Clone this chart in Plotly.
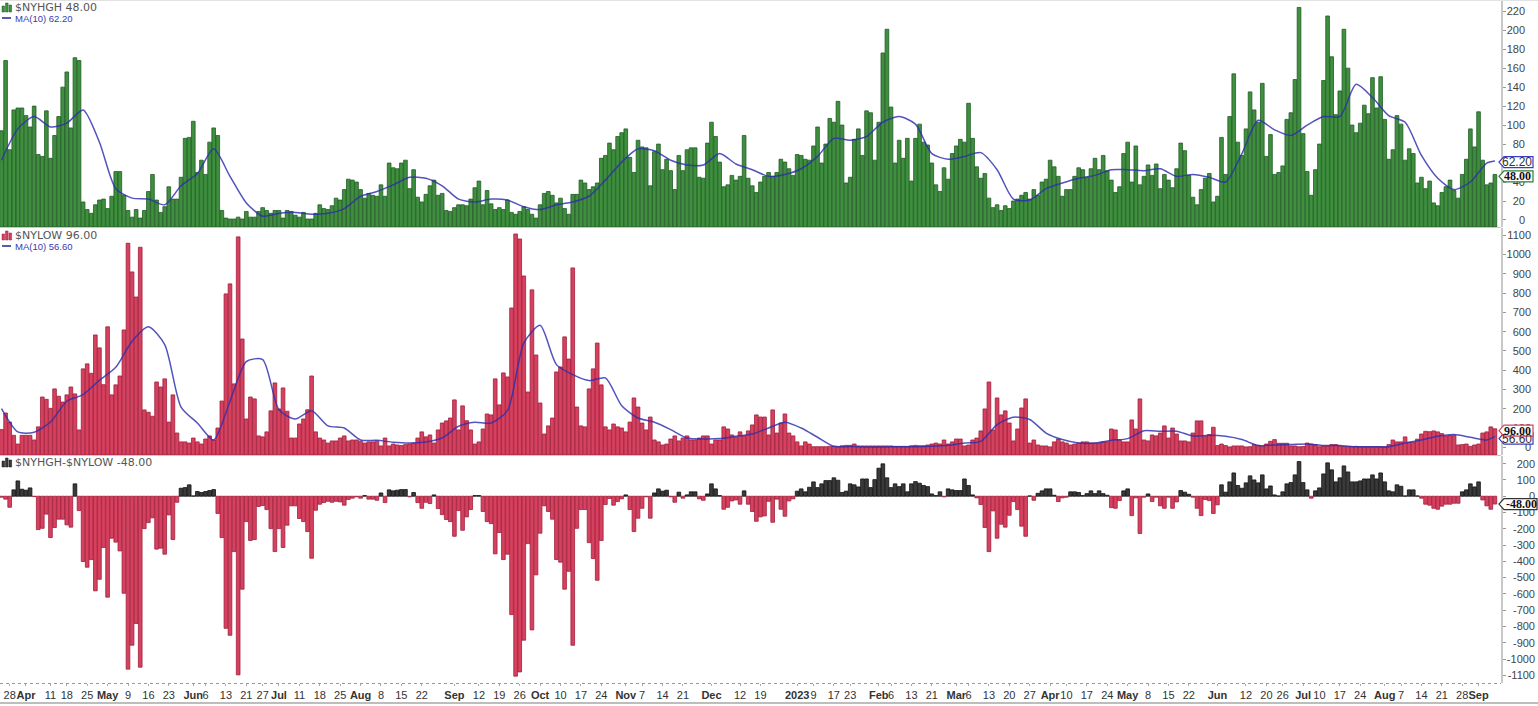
import pandas as pd
import plotly.graph_objects as go

# NYSE sessions shown on the chart
holidays = ["2022-04-15", "2022-05-30", "2022-06-20", "2022-07-04", "2022-09-05", "2022-11-24", "2022-12-26",
            "2023-01-02", "2023-01-16", "2023-02-20", "2023-04-07", "2023-05-29", "2023-06-19", "2023-07-04", "2023-09-04"]
dates = [d.strftime("%Y-%m-%d") for d in pd.bdate_range("2022-03-24", "2023-09-08") if d.strftime("%Y-%m-%d") not in holidays]

new_highs = [
    94, 168, 74, 116, 118, 118, 110, 98, 120, 69, 67, 115, 65, 89, 109, 140, 156, 97, 171, 168,
    19, 11, 7, 16, 21, 22, 12, 25, 51, 51, 26, 10, 3, 11, 2, 10, 30, 48, 21, 8,
    14, 35, 22, 22, 45, 86, 87, 104, 50, 63, 48, 82, 97, 89, 10, 2, 1, 1, 3, 1,
    9, 3, 3, 9, 13, 10, 7, 10, 10, 2, 10, 9, 5, 3, 8, 1, 1, 7, 16, 12,
    11, 15, 23, 21, 32, 43, 42, 40, 32, 23, 28, 26, 25, 37, 25, 60, 55, 54,
    60, 63, 33, 53, 24, 19, 27, 36, 42, 26, 28, 10, 9, 13, 16, 16, 15, 22, 34, 41,
    16, 31, 17, 11, 13, 11, 21, 8, 6, 9, 14, 11, 6, 2, 16, 28, 30, 26, 18, 23,
    12, 6, 27, 27, 42, 39, 32, 35, 39,
    65, 68, 81, 74, 88, 92, 96, 66, 50, 84, 77, 76, 36, 72, 80, 53, 64, 52, 32, 68,
    52, 74, 76, 76, 45, 44, 81, 103, 88, 61, 35, 37, 47, 42, 46, 89, 44, 36, 29, 40,
    46, 50, 46, 50, 64, 61, 54, 47, 69,
    68, 64, 63, 78, 98, 60, 80, 107, 103, 125, 100, 39, 45, 85, 96, 68, 115, 113, 63, 103,
    176, 201, 119, 60, 84, 65, 86, 41, 86, 101, 82, 79, 60, 37, 30, 55, 43, 70, 78, 85,
    82, 123, 86, 56, 44, 49, 23, 13, 16, 10, 15, 12, 20, 22, 26, 29, 22, 32, 26, 40,
    43, 63, 56, 46, 25, 32, 32, 46, 55, 53, 45, 54, 65, 53, 68, 52, 42, 29, 35, 70,
    82, 40, 78, 37, 46, 58, 47, 59, 33, 48, 42, 34, 54, 81, 73, 47, 24, 16,
    32, 44, 49, 19, 25, 87, 48, 109, 154, 82, 68, 96, 135, 116, 103, 144, 67, 90, 48, 50,
    57, 106, 113, 148, 224, 91, 51, 26, 53, 80, 147, 215, 172, 111, 136, 201, 160, 100, 92, 102,
    121, 112, 150, 118, 151, 106, 64, 74, 110, 101, 63, 75, 70, 39, 45, 33, 41, 18, 15, 29,
    35, 42, 31, 23, 48, 64, 96, 77, 114, 63, 37, 39, 48,
]
new_lows = [
    92, 178, 131, 62, 17, 62, 62, 62, 38, 106, 261, 249, 202, 303, 265, 235, 272, 313, 277, 90,
    407, 433, 384, 583, 516, 325, 625, 272, 324, 370, 609, 1059, 910, 780, 1038, 194, 182, 161, 339, 313,
    355, 131, 272, 74, 28, 28, 22, 48, 28, 17, 43, 59, 38, 100, 240, 796, 848, 329, 1092, 562,
    147, 261, 251, 59, 54, 80, 189, 334, 199, 308, 187, 48, 48, 121, 147, 195, 370, 80, 48, 38,
    22, 33, 33, 48, 59, 33, 38, 38, 31, 22, 28, 28, 31, 7, 48, 7, 17, 12,
    9, 14, 17, 21, 48, 80, 54, 64, 22, 90, 126, 137, 152, 246, 90, 215, 138, 90, 17, 28,
    95, 173, 168, 355, 220, 386, 365, 723, 1107, 1081, 889, 287, 817, 479, 230, 69, 111, 152, 391, 417,
    573, 458, 931, 209, 111, 106, 303, 407, 541, 324, 106, 90, 121, 106, 100, 80, 131, 256, 209, 126,
    90, 157, 38, 28, 12, 17, 43, 59, 33, 48, 59, 38, 38, 48, 59, 59, 17, 38, 38, 106,
    95, 64, 54, 80, 59, 85, 116, 168, 157, 157, 64, 194, 74, 126, 173, 74, 59, 28,
    7, 28, 17, 3, 3, 3, 3, 5, 5, 3, 8, 10, 10, 17, 7, 7, 7, 7, 7, 7,
    7, 7, 7, 5, 5, 5, 5, 8, 10, 8, 8, 12, 17, 22, 17, 38, 17, 28, 43, 43,
    7, 12, 38, 48, 85, 199, 339, 90, 256, 168, 189, 126, 33, 95, 204, 251, 22, 38, 12, 7,
    7, 2, 28, 43, 28, 22, 12, 17, 22, 28, 28, 22, 22, 22, 28, 28, 95, 90, 38, 28,
    28, 142, 95, 251, 38, 33, 64, 59, 74, 111, 48, 100, 69, 33, 33, 28, 74, 137,
    137, 57, 66, 104, 9, 17, 9, 2, 7, 7, 7, 2, 3, 14, 10, 5, 17, 31, 40, 21,
    21, 21, 7, 7, 3, 4, 22, 17, 14, 3, 7, 7, 14, 14, 7, 4, 3, 4, 5, 3,
    3, 3, 3, 3, 3, 3, 14, 38, 28, 28, 54, 26, 26, 42, 69, 83, 81, 85, 80, 71,
    59, 62, 62, 12, 14, 17, 5, 12, 17, 74, 80, 106, 96,
]
net_highs = [
    -6, -18, -68, 39, 94, 43, 37, 51, -2, -205, -197, -110, -254, -192, -141, -141, -176, -190, 76, -88,
    -401, -436, -389, -581, -510, -315, -620, -258, -282, -336, -596, -1062, -915, -782, -1050, -199, -162, -133, -325, -319,
    -356, -115, -266, -37, 49, 53, 70, 2, 29, 23, 29, 35, 41, -106, -254, -811, -854, -340, -1097, -571,
    -156, -272, -266, -63, -57, -82, -199, -340, -199, -315, -178, -59, -59, -137, -156, -217, -381, -86, -49, -39,
    -31, -37, -31, -35, -55, -20, -12, -4, -12, 4, -18, -18, -25, 20, -39, 39, 33, 37,
    41, 41, -4, 23, -39, -74, -37, -45, 8, -76, -113, -143, -156, -246, -88, -209, -127, -82, 4, 4,
    -94, -156, -168, -354, -223, -389, -356, -727, -1105, -1079, -884, -291, -821, -483, -227, -59, -94, -141, -389, -405,
    -571, -461, -915, -197, -82, -82, -285, -383, -516, -272, -51, -14, -55, -33, -16, 8, -82, -217, -135, -74,
    -4, -135, 20, 45, 31, 37, -4, -37, 25, -12, 8, 27, 27, -16, -25, 14, 76, 45, 4, -80,
    -68, -29, -23, -49, 33, -49, -94, -154, -127, -121, -31, -160, -18, -80, -123, -29, -16, 31,
    45, 27, 55, 88, 53, 76, 96, 96, 113, 98, 23, 31, 76, 70, 57, 106, 106, 53, 102, 172,
    199, 113, 53, 76, 59, 76, 27, 76, 90, 80, 66, 59, 14, 4, 27, -4, 45, 39, 35, 35,
    106, 66, 8, -10, -51, -192, -340, -90, -258, -172, -190, -117, -33, -82, -184, -246, 2, -25, 18, 33,
    45, 45, 6, -33, -10, -6, 27, 27, 23, 4, 16, 33, 16, 33, 16, 6, -70, -74, -27, 33,
    45, -119, -10, -229, -6, 14, -33, -6, -59, -74, -6, -74, -35, 35, 25, 12, -6, -74,
    -119, -20, -27, -106, -53, 70, 25, 88, 143, 66, 49, 82, 125, 100, 82, 131, 45, 63, 8, 2,
    27, 76, 84, 131, 213, 84, 39, -12, 33, 51, 137, 205, 162, 88, 113, 186, 149, 88, 88, 94,
    106, 106, 131, 106, 143, 88, 33, 27, 70, 61, 2, 39, 39, 2, -12, -49, -55, -74, -80, -61,
    -49, -49, -43, -43, 27, 39, 76, 57, 88, -23, -59, -80, -48,
]

# moving averages read every fourth session, plus the last one
ma_highs = [
    63, 96, 109, 98, 102, 116, 82, 33, 23, 22, 16, 36, 49, 75, 46, 18, 4, 7, 8, 6, 7, 12, 25, 30, 37,
    45, 44, 36, 22, 19, 22, 21, 14, 11, 16, 19, 25, 42, 61, 75, 73, 63, 58, 58, 70, 59, 53, 46, 48,
    54, 67, 86, 84, 88, 103, 109, 101, 70, 64, 67, 71, 53, 22, 21, 33, 39, 44, 47, 53, 53, 52, 54, 46, 48,
    45, 40, 70, 105, 95, 89, 100, 109, 109, 143, 129, 110, 103, 68, 44, 32, 40, 60, 62.2,
]
ma_lows = [
    201, 80, 78, 131, 239, 273, 348, 415, 550, 625, 533, 209, 126, 38, 239, 445, 455, 195, 147, 190, 111, 100, 38, 36, 26,
    22, 28, 48, 109, 130, 126, 190, 541, 633, 429, 377, 346, 360, 216, 152, 130, 92, 48, 43, 45, 57, 69, 100, 130,
    100, 52, 5, 4, 2, 2, 3, 3, 5, 10, 22, 31, 118, 156, 144, 74, 40, 22, 22, 36, 45, 86, 83, 83, 59,
    62, 57, 40, 9, 12, 14, 17, 9, 9, 3, 3, 3, 22, 38, 57, 66, 52, 38, 56.6,
]

tick_dates = [
    "2022-03-28", "2022-04-01", "2022-04-11", "2022-04-18", "2022-04-25", "2022-05-02", "2022-05-09", "2022-05-16", "2022-05-23",
    "2022-06-01", "2022-06-06", "2022-06-13", "2022-06-21", "2022-06-27", "2022-07-01", "2022-07-11", "2022-07-18", "2022-07-25",
    "2022-08-01", "2022-08-08", "2022-08-15", "2022-08-22", "2022-09-01", "2022-09-12", "2022-09-19", "2022-09-26",
    "2022-10-03", "2022-10-10", "2022-10-17", "2022-10-24", "2022-11-01", "2022-11-07", "2022-11-14", "2022-11-21",
    "2022-12-01", "2022-12-12", "2022-12-19", "2023-01-03", "2023-01-09", "2023-01-17", "2023-01-23", "2023-02-01", "2023-02-06",
    "2023-02-13", "2023-02-21", "2023-03-01", "2023-03-06", "2023-03-13", "2023-03-20", "2023-03-27", "2023-04-03", "2023-04-10",
    "2023-04-17", "2023-04-24", "2023-05-01", "2023-05-08", "2023-05-15", "2023-05-22", "2023-06-01", "2023-06-12", "2023-06-20",
    "2023-06-26", "2023-07-03", "2023-07-10", "2023-07-17", "2023-07-24", "2023-08-01", "2023-08-07", "2023-08-14", "2023-08-21",
    "2023-08-28", "2023-09-01",
]
tick_labels = [
    "28", "<b>Apr</b>", "11", "18", "25", "<b>May</b>", "9", "16", "23",
    "<b>Jun</b>", "6", "13", "21", "27", "<b>Jul</b>", "11", "18", "25",
    "<b>Aug</b>", "8", "15", "22", "<b>Sep</b>", "12", "19", "26",
    "<b>Oct</b>", "10", "17", "24", "<b>Nov</b>", "7", "14", "21",
    "<b>Dec</b>", "12", "19", "<b>2023</b>", "9", "17", "23", "<b>Feb</b>", "6",
    "13", "21", "<b>Mar</b>", "6", "13", "20", "27", "<b>Apr</b>", "10",
    "17", "24", "<b>May</b>", "8", "15", "22", "<b>Jun</b>", "12", "20",
    "26", "<b>Jul</b>", "10", "17", "24", "<b>Aug</b>", "7", "14", "21",
    "28", "<b>Sep</b>",
]
high_ticks = list(range(0, 221, 20))
low_ticks = list(range(0, 1101, 100))
net_ticks = list(range(-1100, 201, 100))

lengths = [len(dates), len(new_highs), len(new_lows), len(net_highs), len(ma_highs), len(ma_lows), len(tick_dates), len(tick_labels)]
assert lengths[:4] == [367] * 4 and lengths[4] == lengths[5] == 93 and lengths[6] == lengths[7], lengths

W, H = 1538, 706
PLOT_RIGHT = 1501 / W
GREEN, GREEN_EDGE = "#3f8f3f", "#1f5c24"
RED, RED_EDGE = "#d5425f", "#a31d3b"
DARK, DARK_EDGE = "#3a3a3a", "#111111"
BLUE = "rgba(45,45,175,0.82)"
HIGH_RANGE = [-7.4, 231.3]
LOW_RANGE = [-40, 1138]
NET_RANGE = [-1147, 247]
ma_dates = dates[::4] + [dates[-1]]


def band(top, bottom):
    return [1 - bottom / H, 1 - top / H]


fig = go.Figure()

# bars in the two upper panes stand on the pane floor
fig.add_bar(x=dates, y=[v - HIGH_RANGE[0] for v in new_highs], base=HIGH_RANGE[0], yaxis="y",
            marker=dict(color=GREEN, line=dict(color=GREEN_EDGE, width=0.8)))
fig.add_scatter(x=ma_dates, y=ma_highs, yaxis="y", mode="lines", line=dict(color=BLUE, width=1.5, shape="spline", smoothing=0.7))
fig.add_bar(x=dates, y=[v - LOW_RANGE[0] for v in new_lows], base=LOW_RANGE[0], yaxis="y2",
            marker=dict(color=RED, line=dict(color=RED_EDGE, width=0.8)))
fig.add_scatter(x=ma_dates, y=ma_lows, yaxis="y2", mode="lines", line=dict(color=BLUE, width=1.5, shape="spline", smoothing=0.7))
fig.add_bar(x=dates, y=net_highs, yaxis="y3",
            marker=dict(color=[DARK if v >= 0 else RED for v in net_highs],
                        line=dict(color=[DARK_EDGE if v >= 0 else RED_EDGE for v in net_highs], width=0.8)))

# empty traces so the label axes get drawn
for name in ["y4", "y5", "y6"]:
    fig.add_scatter(x=dates[:1], y=[0], yaxis=name, mode="markers", marker=dict(opacity=0), hoverinfo="skip")

tick_style = dict(ticks="outside", ticklen=3, tickcolor="#999999", showline=True, linecolor="#c8c8c8", linewidth=2,
                  showgrid=False, zeroline=False, showticklabels=False, side="right", anchor="x")
label_style = dict(side="left", anchor="free", showgrid=False, zeroline=False, showline=False, ticks="",
                   tickfont=dict(family="Liberation Sans", size=11, color="#444444"))

fig.update_layout(
    width=W,
    height=H,
    margin=dict(l=0, r=0, t=0, b=0),
    paper_bgcolor="white",
    plot_bgcolor="white",
    showlegend=False,
    bargap=0.1,
    xaxis=dict(type="category", categoryorder="array", categoryarray=dates, domain=[0, PLOT_RIGHT], range=[-0.37, 367.5],
               anchor="y3", tickmode="array", tickvals=tick_dates, ticktext=tick_labels, tickangle=0, ticks="outside", ticklen=2,
               tickcolor="#aaaaaa", showgrid=False, zeroline=False, showline=False,
               tickfont=dict(family="Liberation Sans", size=11, color="#333333")),
    yaxis=dict(domain=band(0.5, 227), range=HIGH_RANGE, tickvals=high_ticks, **tick_style),
    yaxis2=dict(domain=band(228, 455), range=LOW_RANGE, tickvals=low_ticks, **tick_style),
    yaxis3=dict(domain=band(456, 683), range=NET_RANGE, tickvals=net_ticks, **tick_style),
    yaxis4=dict(overlaying="y", range=HIGH_RANGE, position=1525 / W, tickvals=high_ticks, **label_style),
    yaxis5=dict(overlaying="y2", range=LOW_RANGE, position=1531 / W, tickvals=low_ticks, **label_style),
    yaxis6=dict(overlaying="y3", range=NET_RANGE, position=1535 / W, tickvals=net_ticks,
                ticktext=[str(v) for v in net_ticks], **label_style),
)

# pane separators, frame and dotted time axis
frame = [("#e2e2e2", 1, 0.5, "solid", W), ("#cfc4c8", 1, 227.5, "solid", 1501), ("#cfc4c8", 1, 455.5, "solid", 1501),
         ("#999999", 1, 683.5, "dot", 1501), ("#bdbdbd", 2, 703, "solid", W)]
for color, width, y_px, dash, right in frame:
    fig.add_shape(type="line", xref="paper", yref="paper", x0=0, x1=right / W, y0=1 - y_px / H, y1=1 - y_px / H,
                  line=dict(color=color, width=width, dash=dash))


def legend_row(y_px, text, color, size, family):
    fig.add_annotation(xref="paper", yref="paper", x=14 / W, y=1 - y_px / H, text=text, showarrow=False, xanchor="left",
                       yanchor="middle", font=dict(family=family, size=size, color=color), borderpad=0)


def bar_icon(y_px, color, edge):
    for left, top in [(2, 4), (5.5, 1), (9, 3)]:
        fig.add_shape(type="rect", xref="paper", yref="paper", x0=left / W, x1=(left + 2.6) / W,
                      y0=1 - (y_px + 5) / H, y1=1 - (y_px - 5 + top) / H, fillcolor=color, line=dict(color=edge, width=0.5))


def ma_key(y_px):
    fig.add_shape(type="line", xref="paper", yref="paper", x0=2 / W, x1=11 / W, y0=1 - y_px / H, y1=1 - y_px / H,
                  line=dict(color="#23238f", width=1.5))


legend_row(7, "$NYHGH 48.00", "#555555", 11, "DejaVu Sans")
bar_icon(7, GREEN, GREEN_EDGE)
legend_row(18, "MA(10) 62.20", "#3a3ab0", 9.5, "Liberation Sans")
ma_key(18)
legend_row(235, "$NYLOW 96.00", "#555555", 11, "DejaVu Sans")
bar_icon(235, RED, RED_EDGE)
legend_row(246, "MA(10) 56.60", "#3a3ab0", 9.5, "Liberation Sans")
ma_key(246)
legend_row(462, "$NYHGH-$NYLOW -48.00", "#555555", 11, "DejaVu Sans")
bar_icon(462, DARK, DARK_EDGE)


def value_tag(axis, y_pos, text, edge, bold, right=1533):
    body = right - 1501
    fig.add_shape(type="path", xref="paper", xanchor=PLOT_RIGHT, xsizemode="pixel", yref=axis, yanchor=y_pos, ysizemode="pixel",
                  path=f"M -2 0 L 3 -5.5 L {body} -5.5 L {body} 5.5 L 3 5.5 Z", fillcolor="white", line=dict(color=edge, width=1.2))
    fig.add_annotation(xref="paper", yref=axis, x=(right - 16) / W, y=y_pos, text=f"<b>{text}</b>" if bold else text, showarrow=False,
                       xanchor="center", yanchor="middle", borderpad=0,
                       font=dict(family="Liberation Serif" if bold else "Liberation Sans", size=12, color="#111111" if bold else "#333333"))


# tags sit slightly below their exact value in the reference
value_tag("y", 61, "62.20", "#3c3cc0", False)
value_tag("y2", 45, "56.60", "#3c3cc0", False)
value_tag("y", 46, "48.00", "#2e7d32", True)
value_tag("y2", 86, "96.00", "#d5425f", True)
value_tag("y3", -48, "-48.00", "#333333", True, right=1537)

fig.write_html("out.html", post_script="document.body.style.margin='0';", config={"displayModeBar": False})
